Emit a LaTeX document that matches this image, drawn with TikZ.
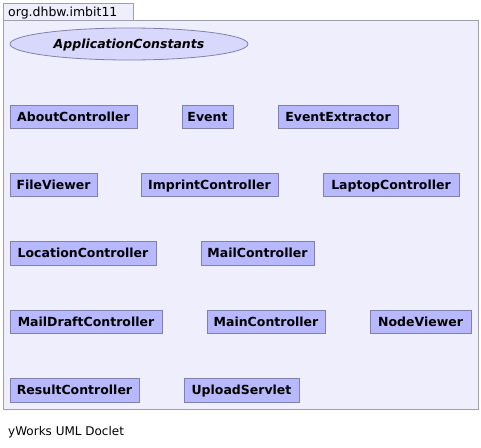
\documentclass[tikz,border=0pt]{standalone}
\usepackage{fontspec}
\setmainfont{DejaVu Sans}
\usetikzlibrary{shapes.geometric}
\definecolor{pkgbg}{RGB}{238,238,252}
\definecolor{pkgline}{RGB}{160,160,172}
\definecolor{clsfill}{RGB}{184,184,255}
\definecolor{clsline}{RGB}{128,128,176}
\begin{document}
\begin{tikzpicture}[x=1pt,y=-1pt,
  cls/.style={draw=clsline,fill=clsfill,line width=0.8pt,inner sep=0pt,text height=9.1pt,text depth=0pt,font=\fontsize{12.5}{14}\selectfont\bfseries},
  pkg/.style={draw=pkgline,fill=pkgbg,line width=0.8pt}]
\useasboundingbox (0,0) rectangle (481,447);
\fill[white] (0,0) rectangle (481,447);
\draw[pkg] (3,3) rectangle (133,20);
\draw[pkg] (3,20) rectangle (478,409.5);
\node[anchor=west,inner sep=0pt,text height=9.1pt,text depth=0pt,font=\fontsize{12.5}{14}\selectfont] (pkgname) at (8,11.5) {org.dhbw.imbit11};
\node[ellipse,draw=clsline,fill=pkgbg!60!clsfill,line width=0.8pt,minimum width=238pt,minimum height=32pt,inner sep=0pt,text height=9.1pt,text depth=0pt,font=\fontsize{12.5}{14}\selectfont\bfseries\itshape] (appc) at (129,44) {ApplicationConstants};
\newcommand{\clsbox}[6]{\node[cls,minimum width=#4-#3,minimum height=#6-#5] (#1) at ({(#3+#4)/2},{(#5+#6)/2}) {#2};}
\clsbox{about}{AboutController}{10}{137}{105}{128}
\clsbox{event}{Event}{182}{233}{105}{128}
\clsbox{eventx}{EventExtractor}{278}{398}{105}{128}
\clsbox{filev}{FileViewer}{10}{97}{173}{196}
\clsbox{imprint}{ImprintController}{141}{278}{173}{196}
\clsbox{laptop}{LaptopController}{323}{459}{173}{196}
\clsbox{location}{LocationController}{10}{156}{241.5}{265}
\clsbox{mail}{MailController}{201}{314}{241.5}{265}
\clsbox{maildraft}{MailDraftController}{10}{162}{310}{333}
\clsbox{main}{MainController}{207}{325}{310}{333}
\clsbox{nodev}{NodeViewer}{370}{471}{310}{333}
\clsbox{result}{ResultController}{10}{139}{378}{402}
\clsbox{upload}{UploadServlet}{184}{299}{378}{402}
\node[anchor=west,inner sep=0pt,text height=8.8pt,text depth=0pt,font=\fontsize{12}{14}\selectfont] (footer) at (8,431) {yWorks UML Doclet};
\end{tikzpicture}
\end{document}
